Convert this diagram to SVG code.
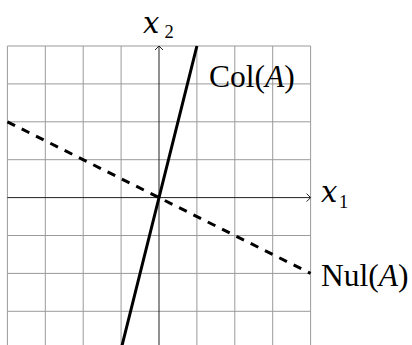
<svg xmlns="http://www.w3.org/2000/svg" width="412" height="345" viewBox="0 0 412 345">
<style>
.grid{stroke:#9a9a9a;stroke-width:1;fill:none}
.axis{stroke:#222;stroke-width:1;fill:none}
.col{stroke:#000;stroke-width:3;fill:none}
.nul{stroke:#000;stroke-width:3;fill:none;stroke-dasharray:8.5 7.5}
text{font-family:"Liberation Serif","Times New Roman",serif;fill:#000}
.lbl{font-size:31.5px}
.it{font-style:italic}
.mx{font-family:"DejaVu Serif",serif;font-style:italic;font-size:29px}
.sub{font-size:18.5px}
</style>
<rect width="412" height="345" fill="#fff"/>
<g id="grid">
<path class="grid" d="M7.4,46V350 M45.3,46V350 M83.2,46V350 M121.1,46V350 M196.9,46V350 M234.8,46V350 M272.7,46V350 M310.6,46V350 M7.4,46H310.6 M7.4,83.9H310.6 M7.4,121.8H310.6 M7.4,159.7H310.6 M7.4,235.5H310.6 M7.4,273.4H310.6 M7.4,311.3H310.6"/>
</g>
<g id="connectors">
<path id="x1-axis" class="axis" d="M7.4,197.6H310.6 M306.6,193.6 L310.6,197.6 L306.6,201.6"/>
<path id="x2-axis" class="axis" d="M159,350V46 M155,50 L159,46 L163,50"/>
<path id="col-line" class="col" d="M121.1,349.2 L196.9,46"/>
<path id="nul-line" class="nul" d="M7.4,121.8 L310.6,273.4"/>
</g>
<g id="label-x2"><text x="143" y="33.3"><tspan class="mx">x</tspan><tspan class="sub" x="164.5" y="38.3">2</tspan></text></g>
<g id="label-x1"><text x="321" y="201.7"><tspan class="mx">x</tspan><tspan class="sub" x="339" y="208.3">1</tspan></text></g>
<g id="label-col"><text class="lbl" x="209" y="86.5">Col(<tspan class="it">A</tspan>)</text></g>
<g id="label-nul"><text class="lbl" x="321" y="286">Nul(<tspan class="it">A</tspan>)</text></g>
</svg>
